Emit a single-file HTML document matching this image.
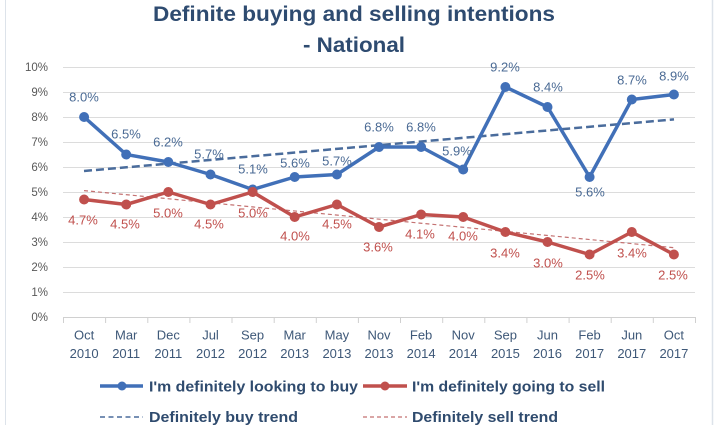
<!DOCTYPE html>
<html><head><meta charset="utf-8"><style>
html,body{margin:0;padding:0;background:#fff;}
svg{display:block;}
text{font-family:"Liberation Sans",sans-serif;}
</style></head><body>
<svg width="720" height="425" viewBox="0 0 720 425" xmlns="http://www.w3.org/2000/svg">
<rect x="0" y="0" width="720" height="425" fill="#fff"/>
<line x1="5.5" y1="0" x2="5.5" y2="425" stroke="#DDE3EA" stroke-width="1"/>
<line x1="712.5" y1="0" x2="712.5" y2="425" stroke="#DDE3EA" stroke-width="1.5"/>
<!-- title -->
<text x="354" y="21" text-anchor="middle" font-size="21" font-weight="bold" fill="#2E4B70" textLength="402" lengthAdjust="spacingAndGlyphs">Definite buying and selling intentions</text>
<text x="354" y="52" text-anchor="middle" font-size="21" font-weight="bold" fill="#2E4B70" textLength="102" lengthAdjust="spacingAndGlyphs">- National</text>
<!-- gridlines -->
<g stroke="#DCDCDC" stroke-width="1">
<line x1="63" y1="67.5" x2="695" y2="67.5"/>
<line x1="63" y1="92.5" x2="695" y2="92.5"/>
<line x1="63" y1="117.5" x2="695" y2="117.5"/>
<line x1="63" y1="142.5" x2="695" y2="142.5"/>
<line x1="63" y1="167.5" x2="695" y2="167.5"/>
<line x1="63" y1="192.5" x2="695" y2="192.5"/>
<line x1="63" y1="217.5" x2="695" y2="217.5"/>
<line x1="63" y1="242.5" x2="695" y2="242.5"/>
<line x1="63" y1="267.5" x2="695" y2="267.5"/>
<line x1="63" y1="292.5" x2="695" y2="292.5"/>
</g>
<g stroke="#D0D0D0" stroke-width="1">
<line x1="63" y1="317.5" x2="695" y2="317.5"/>
<line x1="63.5" y1="317" x2="63.5" y2="323"/>
<line x1="105.6" y1="317" x2="105.6" y2="323"/>
<line x1="147.8" y1="317" x2="147.8" y2="323"/>
<line x1="189.9" y1="317" x2="189.9" y2="323"/>
<line x1="232.0" y1="317" x2="232.0" y2="323"/>
<line x1="274.2" y1="317" x2="274.2" y2="323"/>
<line x1="316.3" y1="317" x2="316.3" y2="323"/>
<line x1="358.4" y1="317" x2="358.4" y2="323"/>
<line x1="400.5" y1="317" x2="400.5" y2="323"/>
<line x1="442.7" y1="317" x2="442.7" y2="323"/>
<line x1="484.8" y1="317" x2="484.8" y2="323"/>
<line x1="526.9" y1="317" x2="526.9" y2="323"/>
<line x1="569.1" y1="317" x2="569.1" y2="323"/>
<line x1="611.2" y1="317" x2="611.2" y2="323"/>
<line x1="653.3" y1="317" x2="653.3" y2="323"/>
<line x1="695.5" y1="317" x2="695.5" y2="323"/>
</g>
<!-- y labels -->
<g font-size="11.5" fill="#595959" text-anchor="end">
<text x="48" y="71">10%</text>
<text x="48" y="96">9%</text>
<text x="48" y="121">8%</text>
<text x="48" y="146">7%</text>
<text x="48" y="171">6%</text>
<text x="48" y="196">5%</text>
<text x="48" y="221">4%</text>
<text x="48" y="246">3%</text>
<text x="48" y="271">2%</text>
<text x="48" y="296">1%</text>
<text x="48" y="321">0%</text>
</g>
<!-- x labels -->
<g font-size="13" fill="#3E5878" text-anchor="middle">
<text x="84.1" y="339.5">Oct</text><text x="84.1" y="358">2010</text>
<text x="126.2" y="339.5">Mar</text><text x="126.2" y="358">2011</text>
<text x="168.3" y="339.5">Dec</text><text x="168.3" y="358">2011</text>
<text x="210.5" y="339.5">Jul</text><text x="210.5" y="358">2012</text>
<text x="252.6" y="339.5">Sep</text><text x="252.6" y="358">2012</text>
<text x="294.7" y="339.5">Mar</text><text x="294.7" y="358">2013</text>
<text x="336.9" y="339.5">May</text><text x="336.9" y="358">2013</text>
<text x="379.0" y="339.5">Nov</text><text x="379.0" y="358">2013</text>
<text x="421.1" y="339.5">Feb</text><text x="421.1" y="358">2014</text>
<text x="463.2" y="339.5">Nov</text><text x="463.2" y="358">2014</text>
<text x="505.4" y="339.5">Sep</text><text x="505.4" y="358">2015</text>
<text x="547.5" y="339.5">Jun</text><text x="547.5" y="358">2016</text>
<text x="589.6" y="339.5">Feb</text><text x="589.6" y="358">2017</text>
<text x="631.8" y="339.5">Jun</text><text x="631.8" y="358">2017</text>
<text x="673.9" y="339.5">Oct</text><text x="673.9" y="358">2017</text>
</g>
<!-- trends -->
<line x1="84" y1="171" x2="674" y2="119.4" stroke="#4A6C9C" stroke-width="2.5" stroke-dasharray="8,4"/>
<line x1="84" y1="190.6" x2="674" y2="247.7" stroke="#C47272" stroke-width="1.2" stroke-dasharray="4,3"/>
<!-- buy series -->
<polyline fill="none" stroke="#4170B8" stroke-width="3.5" stroke-linejoin="round" points="84.1,117 126.2,154.5 168.3,162 210.5,174.5 252.6,189.5 294.7,177 336.9,174.5 379.0,147 421.1,147 463.2,169.5 505.4,87 547.5,107 589.6,177 631.8,99.5 673.9,94.5"/>
<g fill="#4170B8">
<circle cx="84.1" cy="117" r="5"/><circle cx="126.2" cy="154.5" r="5"/><circle cx="168.3" cy="162" r="5"/><circle cx="210.5" cy="174.5" r="5"/><circle cx="252.6" cy="189.5" r="5"/><circle cx="294.7" cy="177" r="5"/><circle cx="336.9" cy="174.5" r="5"/><circle cx="379.0" cy="147" r="5"/><circle cx="421.1" cy="147" r="5"/><circle cx="463.2" cy="169.5" r="5"/><circle cx="505.4" cy="87" r="5"/><circle cx="547.5" cy="107" r="5"/><circle cx="589.6" cy="177" r="5"/><circle cx="631.8" cy="99.5" r="5"/><circle cx="673.9" cy="94.5" r="5"/>
</g>
<!-- sell series -->
<polyline fill="none" stroke="#C0504D" stroke-width="3.5" stroke-linejoin="round" points="84.1,199.5 126.2,204.5 168.3,192 210.5,204.5 252.6,192 294.7,217 336.9,204.5 379.0,227 421.1,214.5 463.2,217 505.4,232 547.5,242 589.6,254.5 631.8,232 673.9,254.5"/>
<g fill="#C0504D">
<circle cx="84.1" cy="199.5" r="5"/><circle cx="126.2" cy="204.5" r="5"/><circle cx="168.3" cy="192" r="5"/><circle cx="210.5" cy="204.5" r="5"/><circle cx="252.6" cy="192" r="5"/><circle cx="294.7" cy="217" r="5"/><circle cx="336.9" cy="204.5" r="5"/><circle cx="379.0" cy="227" r="5"/><circle cx="421.1" cy="214.5" r="5"/><circle cx="463.2" cy="217" r="5"/><circle cx="505.4" cy="232" r="5"/><circle cx="547.5" cy="242" r="5"/><circle cx="589.6" cy="254.5" r="5"/><circle cx="631.8" cy="232" r="5"/><circle cx="673.9" cy="254.5" r="5"/>
</g>
<!-- buy labels -->
<g font-size="13" fill="#4A6A94" text-anchor="middle">
<text x="84" y="101.5">8.0%</text>
<text x="126" y="138.5">6.5%</text>
<text x="168" y="146.5">6.2%</text>
<text x="209" y="158.5">5.7%</text>
<text x="253" y="173.5">5.1%</text>
<text x="295" y="167.5">5.6%</text>
<text x="337" y="165.5">5.7%</text>
<text x="379" y="131.5">6.8%</text>
<text x="421" y="131.5">6.8%</text>
<text x="457" y="155.5">5.9%</text>
<text x="505" y="71.5">9.2%</text>
<text x="548" y="91.5">8.4%</text>
<text x="590" y="196.5">5.6%</text>
<text x="632" y="84.5">8.7%</text>
<text x="674" y="80.5">8.9%</text>
</g>
<!-- sell labels -->
<g font-size="13" fill="#C0504D" text-anchor="middle">
<text x="83" y="224.5">4.7%</text>
<text x="125" y="228.5">4.5%</text>
<text x="168" y="217.5">5.0%</text>
<text x="209" y="228.5">4.5%</text>
<text x="253" y="217.5">5.0%</text>
<text x="295" y="240.5">4.0%</text>
<text x="337" y="228.5">4.5%</text>
<text x="378" y="251.5">3.6%</text>
<text x="420" y="238.5">4.1%</text>
<text x="463" y="240.5">4.0%</text>
<text x="505" y="257.5">3.4%</text>
<text x="548" y="267.5">3.0%</text>
<text x="590" y="279.5">2.5%</text>
<text x="632" y="257.5">3.4%</text>
<text x="673" y="279.5">2.5%</text>
</g>
<!-- legend -->
<line x1="100" y1="386" x2="143" y2="386" stroke="#4170B8" stroke-width="3.5"/>
<circle cx="122" cy="386" r="4.5" fill="#4170B8"/>
<text x="149" y="391.5" font-size="15" font-weight="bold" fill="#2F4B6E" textLength="209" lengthAdjust="spacingAndGlyphs">I'm definitely looking to buy</text>
<line x1="363" y1="386" x2="407" y2="386" stroke="#C0504D" stroke-width="3.5"/>
<circle cx="385" cy="386" r="4.5" fill="#C0504D"/>
<text x="412" y="391.5" font-size="15" font-weight="bold" fill="#2F4B6E" textLength="193" lengthAdjust="spacingAndGlyphs">I'm definitely going to sell</text>
<line x1="100" y1="417" x2="143" y2="417" stroke="#4A6C9C" stroke-width="1.5" stroke-dasharray="5,3.5"/>
<text x="149" y="422" font-size="15" font-weight="bold" fill="#2F4B6E" textLength="149" lengthAdjust="spacingAndGlyphs">Definitely buy trend</text>
<line x1="363" y1="417" x2="407" y2="417" stroke="#C47272" stroke-width="1.2" stroke-dasharray="4,3"/>
<text x="412" y="422" font-size="15" font-weight="bold" fill="#2F4B6E" textLength="146" lengthAdjust="spacingAndGlyphs">Definitely sell trend</text>
</svg>
</body></html>
